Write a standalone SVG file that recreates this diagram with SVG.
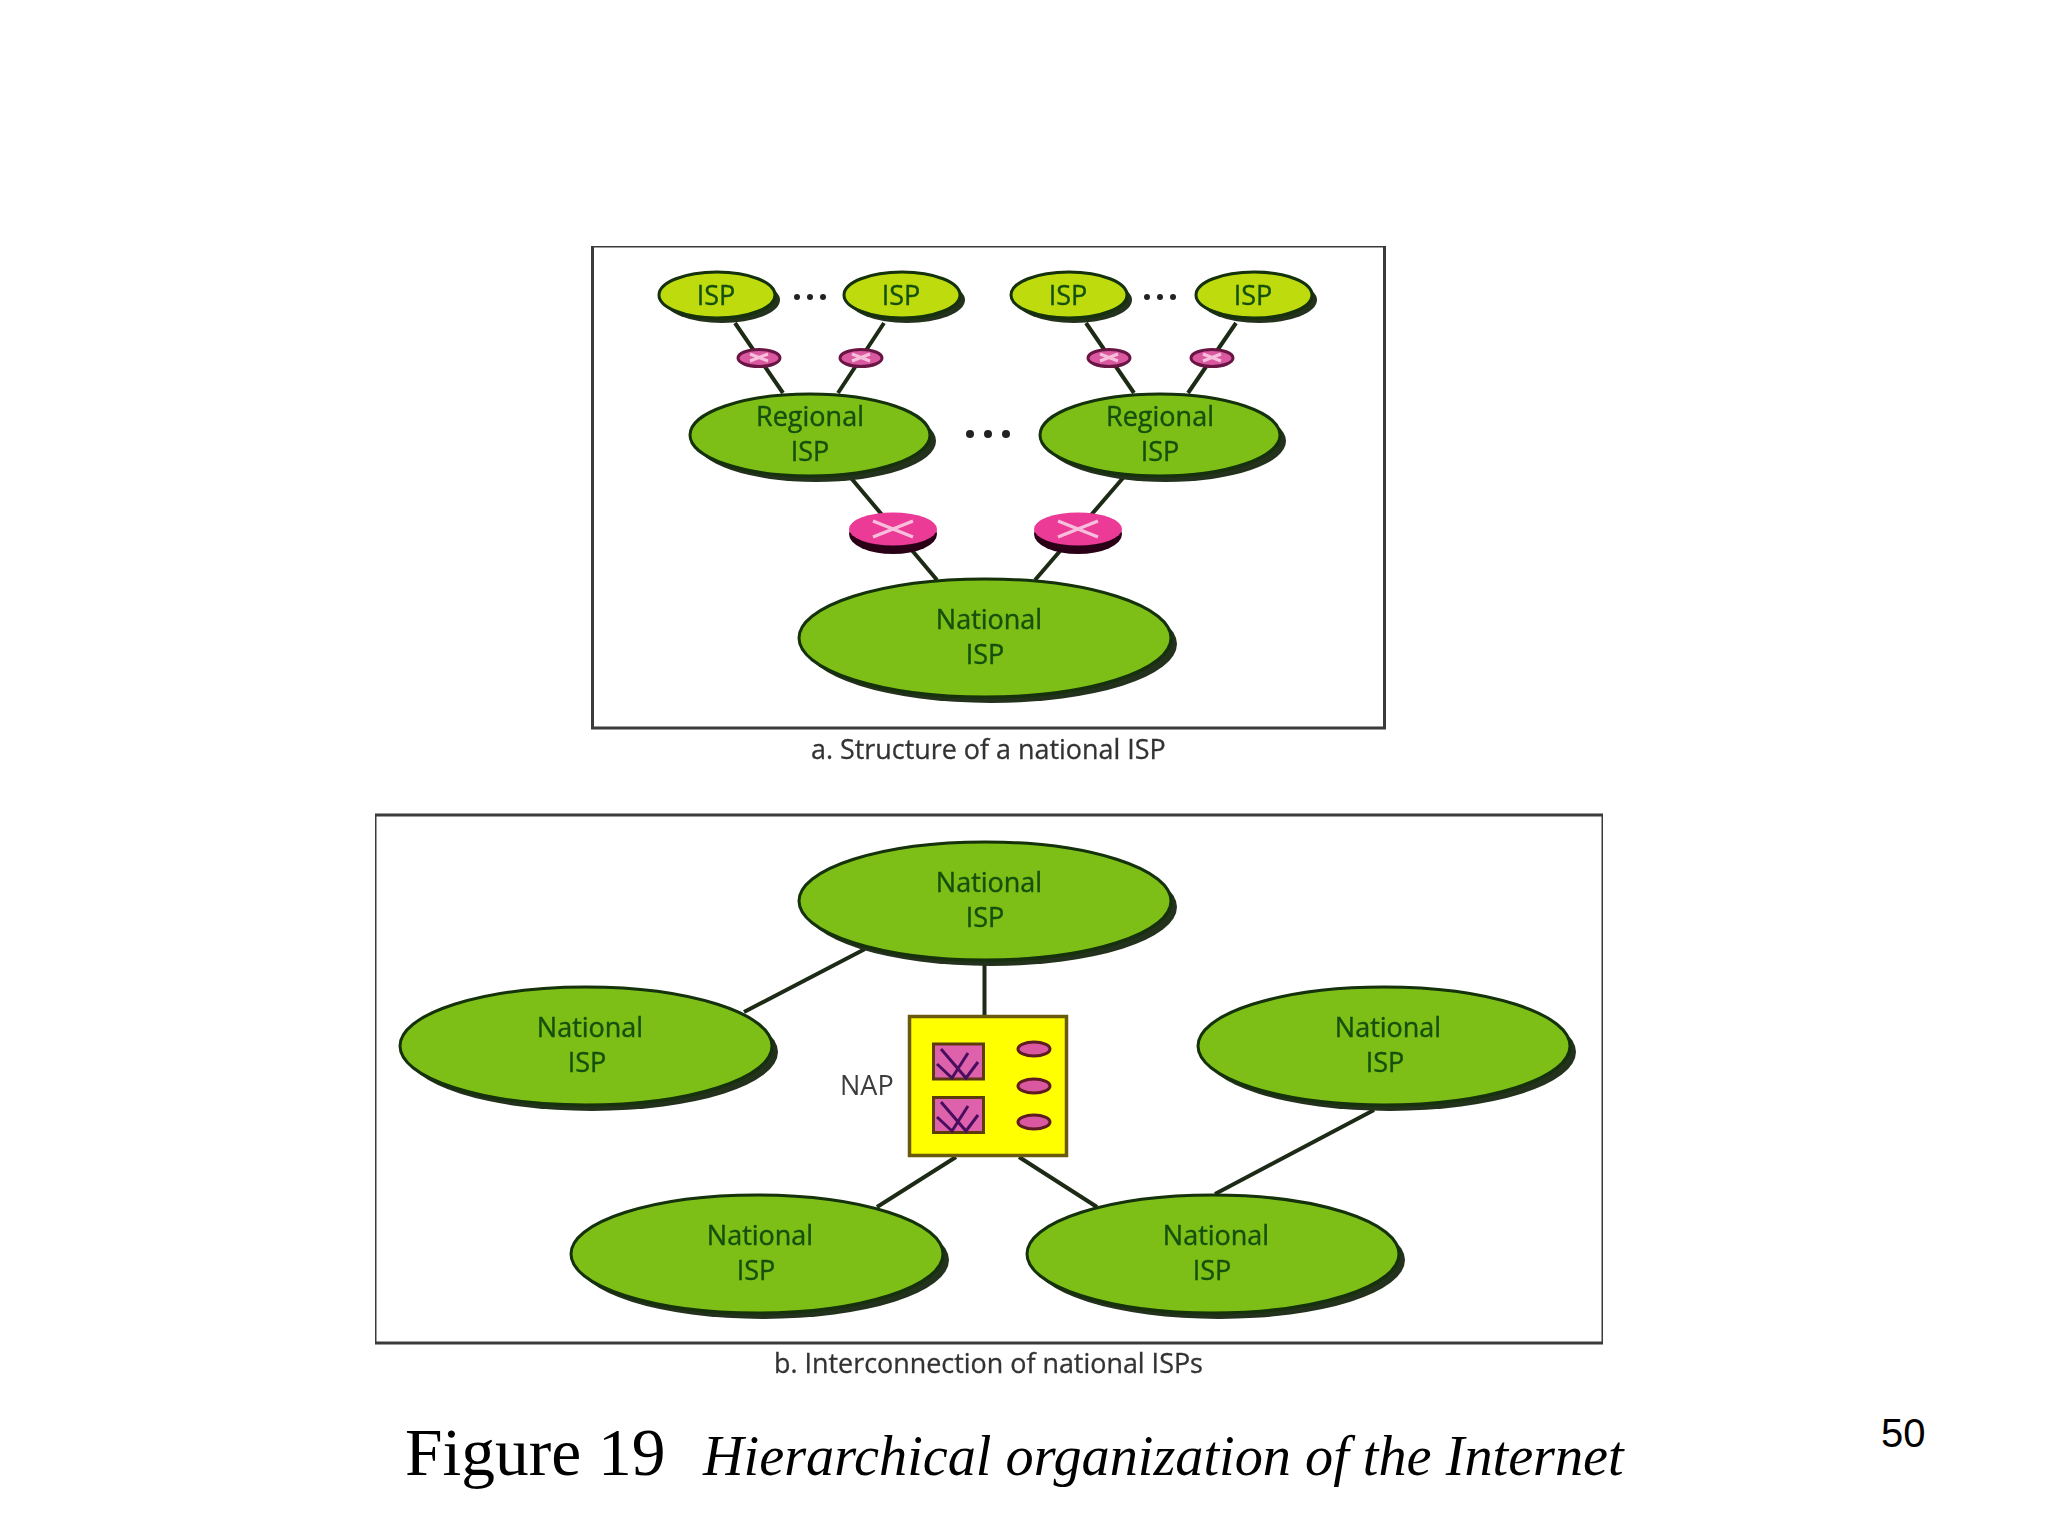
<svg xmlns="http://www.w3.org/2000/svg" width="2048" height="1536" viewBox="0 0 2048 1536">
<defs><filter id="soft" x="0" y="0" width="100%" height="100%"><feGaussianBlur stdDeviation="0.7"/></filter></defs>
<style>
.frame{fill:#fff;stroke:#3a3a3a;stroke-width:3}
.link{stroke:#1c2b14;stroke-width:4;fill:none}
.sh{fill:#24301c}
.nat{fill:#7dbf17;stroke:#123008;stroke-width:3}
.isp{fill:#bddb0d;stroke:#123008;stroke-width:3}
.lab{font-family:"Open Sans","Noto Sans",sans-serif;font-size:27px;fill:#14500e;stroke:#14500e;stroke-width:.4;text-anchor:middle}
.cap{font-family:"Open Sans","Noto Sans",sans-serif;font-size:26.9px;fill:#333;stroke:#333;stroke-width:.3}
.dot{fill:#222}
.rb{fill:#2a0018}
.rt{fill:#ec3a96}
.rs{fill:#d9589f;stroke:#6b1245;stroke-width:3}
.x{stroke:#f7bfdc;stroke-width:3.5;fill:none}
.xs{stroke:#f7bfdc;stroke-width:3;fill:none}
.sq{fill:#dd62ab;stroke:#5c3a10;stroke-width:3}
.sx{stroke:#4a1060;stroke-width:3;fill:none}
.rn{fill:#d9589f;stroke:#5c1a20;stroke-width:3}
</style>
<g filter="url(#soft)">
<g id="frames">
<rect class="frame" x="592.5" y="246" width="792" height="482"/>
<rect class="frame" x="375" y="815" width="1228" height="528"/>
</g>
<g id="connectors">
<path class="link" d="M735 323L783 393M884 323L838 393M1086 323L1134 393M1236 323L1188 393"/>
<path class="link" d="M851 478L937 580M1123 478L1035 580"/>
<path class="link" d="M865 949L744 1012M984.500 958V1016M956 1157L877 1207M1019 1157L1097 1207M1374 1110L1215 1194"/>
</g>
<g id="isp1"><ellipse class="sh" cx="722" cy="300" rx="58" ry="23"/><ellipse class="isp" cx="717" cy="295" rx="58" ry="23"/><text class="lab" x="716" y="305">ISP</text></g>
<g id="isp2"><ellipse class="sh" cx="907" cy="300" rx="58" ry="23"/><ellipse class="isp" cx="902" cy="295" rx="58" ry="23"/><text class="lab" x="901" y="305">ISP</text></g>
<g id="isp3"><ellipse class="sh" cx="1074" cy="300" rx="58" ry="23"/><ellipse class="isp" cx="1069" cy="295" rx="58" ry="23"/><text class="lab" x="1068" y="305">ISP</text></g>
<g id="isp4"><ellipse class="sh" cx="1259" cy="300" rx="58" ry="23"/><ellipse class="isp" cx="1254" cy="295" rx="58" ry="23"/><text class="lab" x="1253" y="305">ISP</text></g>
<g id="dots">
<circle class="dot" cx="797" cy="297" r="3"/><circle class="dot" cx="810" cy="297" r="3"/><circle class="dot" cx="823" cy="297" r="3"/>
<circle class="dot" cx="1147" cy="297" r="3"/><circle class="dot" cx="1160" cy="297" r="3"/><circle class="dot" cx="1173" cy="297" r="3"/>
<circle class="dot" cx="970" cy="434" r="4"/><circle class="dot" cx="988" cy="434" r="4"/><circle class="dot" cx="1006" cy="434" r="4"/>
</g>
<g id="rs1"><ellipse class="rs" cx="759" cy="358" rx="21" ry="8.500"/><path class="xs" d="M750 354L768 361M750 361L768 354"/></g>
<g id="rs2"><ellipse class="rs" cx="861" cy="358" rx="21" ry="8.500"/><path class="xs" d="M852 354L870 361M852 361L870 354"/></g>
<g id="rs3"><ellipse class="rs" cx="1109" cy="358" rx="21" ry="8.500"/><path class="xs" d="M1100 354L1118 361M1100 361L1118 354"/></g>
<g id="rs4"><ellipse class="rs" cx="1212" cy="358" rx="21" ry="8.500"/><path class="xs" d="M1203 354L1221 361M1203 361L1221 354"/></g>
<g id="regional1"><ellipse class="sh" cx="816" cy="441" rx="120" ry="41"/><ellipse class="nat" cx="810" cy="435" rx="120" ry="41"/><text class="lab" x="810" y="426">Regional</text><text class="lab" x="810" y="461">ISP</text></g>
<g id="regional2"><ellipse class="sh" cx="1166" cy="441" rx="120" ry="41"/><ellipse class="nat" cx="1160" cy="435" rx="120" ry="41"/><text class="lab" x="1160" y="426">Regional</text><text class="lab" x="1160" y="461">ISP</text></g>
<g id="router1"><ellipse class="rb" cx="893" cy="534" rx="44" ry="20"/><ellipse class="rt" cx="893" cy="529" rx="44" ry="16.500"/><path class="x" d="M873 521L913 537M873 537L913 521"/></g>
<g id="router2"><ellipse class="rb" cx="1078" cy="534" rx="44" ry="20"/><ellipse class="rt" cx="1078" cy="529" rx="44" ry="16.500"/><path class="x" d="M1058 521L1098 537M1058 537L1098 521"/></g>
<g id="national-a"><ellipse class="sh" cx="991" cy="644" rx="186" ry="59"/><ellipse class="nat" cx="985" cy="638" rx="186" ry="59"/><text class="lab" x="989" y="629">National</text><text class="lab" x="985" y="664">ISP</text></g>
<text class="cap" x="811" y="759">a. Structure of a national ISP</text>
<g id="national-top"><ellipse class="sh" cx="991" cy="907" rx="186" ry="59"/><ellipse class="nat" cx="985" cy="901" rx="186" ry="59"/><text class="lab" x="989" y="892">National</text><text class="lab" x="985" y="927">ISP</text></g>
<g id="national-left"><ellipse class="sh" cx="592" cy="1052" rx="186" ry="59"/><ellipse class="nat" cx="586" cy="1046" rx="186" ry="59"/><text class="lab" x="590" y="1037">National</text><text class="lab" x="587" y="1072">ISP</text></g>
<g id="national-right"><ellipse class="sh" cx="1390" cy="1052" rx="186" ry="59"/><ellipse class="nat" cx="1384" cy="1046" rx="186" ry="59"/><text class="lab" x="1388" y="1037">National</text><text class="lab" x="1385" y="1072">ISP</text></g>
<g id="national-bl"><ellipse class="sh" cx="763" cy="1260" rx="186" ry="59"/><ellipse class="nat" cx="757" cy="1254" rx="186" ry="59"/><text class="lab" x="760" y="1245">National</text><text class="lab" x="756" y="1280">ISP</text></g>
<g id="national-br"><ellipse class="sh" cx="1219" cy="1260" rx="186" ry="59"/><ellipse class="nat" cx="1213" cy="1254" rx="186" ry="59"/><text class="lab" x="1216" y="1245">National</text><text class="lab" x="1212" y="1280">ISP</text></g>
<g id="nap">
<rect x="909.500" y="1016.500" width="157" height="139" fill="#ffff00" stroke="#6b5a10" stroke-width="3.500"/>
<rect class="sq" x="933.500" y="1044" width="50" height="35"/><path class="sx" d="M941 1049L966 1078L978 1062M937 1064L952 1078L968 1053"/>
<rect class="sq" x="933.500" y="1097.500" width="50" height="35"/><path class="sx" d="M941 1102L966 1131L978 1115M937 1117L952 1131L968 1106"/>
<ellipse class="rn" cx="1034" cy="1049" rx="16" ry="7"/><ellipse class="rn" cx="1034" cy="1086" rx="16" ry="7"/><ellipse class="rn" cx="1034" cy="1122" rx="16" ry="7"/>
<text font-family="'Open Sans','Noto Sans',sans-serif" font-size="27" fill="#3c3c3c" x="840" y="1095">NAP</text>
</g>
<text class="cap" x="774" y="1373">b. Interconnection of national ISPs</text>
</g>
<text font-family="'Liberation Serif',serif" font-size="67.500" fill="#000" x="405" y="1475">Figure 19</text>
<text font-family="'Liberation Serif',serif" font-style="italic" font-size="56.250" fill="#000" x="703" y="1475">Hierarchical organization of the Internet</text>
<text font-family="'Liberation Sans',sans-serif" font-size="40" fill="#000" x="1881" y="1447">50</text>
</svg>
